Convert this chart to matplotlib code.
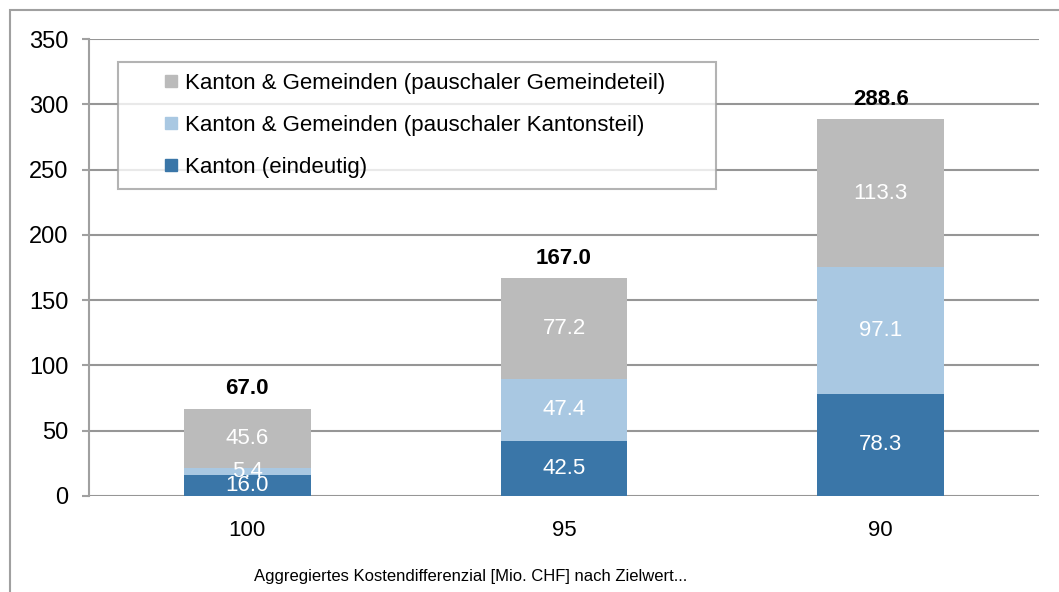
import matplotlib.pyplot as plt
from matplotlib.patches import Rectangle
from matplotlib.lines import Line2D
import numpy as np

plt.rcParams['font.family'] = ['Liberation Sans', 'DejaVu Sans']

# Daten (Mio. CHF)
categories = ['100', '95', '90']
kanton = [16.0, 42.5, 78.3]
kantonsteil = [5.4, 47.4, 97.1]
gemeindeteil = [45.6, 77.2, 113.3]
totals = [67.0, 167.0, 288.6]

labels = ['Kanton (eindeutig)',
          'Kanton & Gemeinden (pauschaler Kantonsteil)',
          'Kanton & Gemeinden (pauschaler Gemeindeteil)']
colors = ['#3A76A8', '#A9C8E2', '#BBBBBB']

fig = plt.figure(figsize=(10.59, 5.92), dpi=100)
ax = fig.add_axes([89 / 1059, 96 / 592, 950 / 1059, 457 / 592])

# outer chart frame
fig.patches.append(Rectangle((10 / 1059, -0.05), 1.2, 0.05 + 582 / 592,
                             transform=fig.transFigure, fill=False,
                             edgecolor='#A0A0A0', linewidth=1.5, zorder=0))

x = np.arange(len(categories))
w = 0.40
series = [kanton, kantonsteil, gemeindeteil]
bottom = np.zeros(len(categories))
for vals, col, lab in zip(series, colors, labels):
    ax.bar(x, vals, w, bottom=bottom, color=col, label=lab, zorder=2)
    for xi, v, b0 in zip(x, vals, bottom):
        ax.text(xi, b0 + v / 2, f'{v:.1f}', ha='center', va='center',
                color='white', fontsize=16, zorder=3)
    bottom += np.array(vals)

for xi, t in zip(x, totals):
    ax.text(xi, t + 7, f'{t:.1f}', ha='center', va='bottom',
            fontsize=16, fontweight='bold', color='black')

ax.set_xlim(-0.5, 2.5)
ax.set_ylim(0, 350)
ax.set_yticks(range(0, 351, 50))
ax.set_xticks(x)
ax.set_xticklabels(categories)
ax.yaxis.grid(True, color='#969696', linewidth=1.5, zorder=0)
ax.set_axisbelow(True)
for s in ['top', 'right', 'bottom']:
    ax.spines[s].set_visible(False)
ax.spines['left'].set_color('#A0A0A0')
ax.spines['left'].set_linewidth(1.5)
ax.tick_params(axis='y', length=5, width=1.5, color='#A0A0A0',
               labelsize=17, pad=10)
ax.tick_params(axis='x', length=0, labelsize=16, pad=17)

ax.text(471 / 1059, 15 / 592,
        'Aggregiertes Kostendifferenzial [Mio. CHF] nach Zielwert...',
        transform=fig.transFigure, ha='center', va='center', fontsize=12)

handles = [Line2D([], [], linestyle='none', marker='s', markersize=9,
                  markerfacecolor=c, markeredgecolor=c) for c in colors]
leg = ax.legend(handles[::-1], labels[::-1], loc='upper left',
                bbox_to_anchor=(0.0305, 0.674, 0.63, 0.276), mode='expand',
                borderaxespad=0, fontsize=16, frameon=True, fancybox=False,
                handlelength=3.8, handletextpad=-1.3,
                labelspacing=0.95, borderpad=0.5)
leg.get_frame().set_edgecolor('#A0A0A0')
leg.get_frame().set_linewidth(1.5)

fig.savefig('out.png', dpi=100)
